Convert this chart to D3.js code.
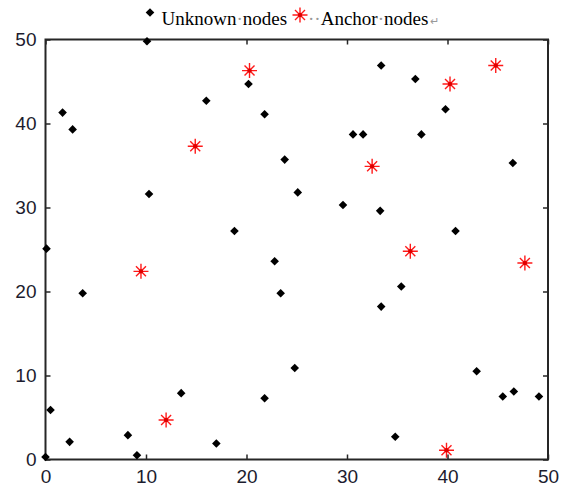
<!DOCTYPE html>
<html>
<head>
<meta charset="utf-8">
<script src="https://cdn.jsdelivr.net/npm/d3@7"></script>
<style>
  body { margin: 0; background: #fff; }
  .tick text { font-family: "Liberation Sans", Arial, sans-serif; font-size: 19px; fill: #1c1c2e; }
  .tick line { stroke: #262626; stroke-width: 1.5; }
</style>
</head>
<body>
<div id="chart"></div>
<script>
// unknown nodes (black diamonds)
var unknownX = [10.1, 1.7, 2.7, 16.0, 10.3, 0.1, 20.2, 21.8, 33.4, 30.6,
                31.6, 23.8, 25.1, 29.6, 33.3, 18.8, 36.8, 39.8, 37.4, 46.5,
                40.8, 3.7, 13.5, 0.5, 8.2, 2.4, 9.1, 0.0, 17.0, 22.8,
                23.4, 33.4, 24.8, 21.8, 35.4, 42.9, 45.5, 46.6, 49.1, 34.8];
var unknownY = [49.8, 41.3, 39.3, 42.7, 31.6, 25.1, 44.7, 41.1, 46.9, 38.7,
                38.7, 35.7, 31.8, 30.3, 29.6, 27.2, 45.3, 41.7, 38.7, 35.3,
                27.2, 19.8, 7.9, 5.9, 2.9, 2.1, 0.5, 0.3, 1.9, 23.6,
                19.8, 18.2, 10.9, 7.3, 20.6, 10.5, 7.5, 8.1, 7.5, 2.7];

// anchor nodes (red stars)
var anchorX = [9.5, 12.0, 14.9, 20.3, 32.5, 36.3, 40.25, 39.9, 44.8, 47.7];
var anchorY = [22.4, 4.7, 37.3, 46.3, 34.9, 24.8, 44.7, 1.1, 46.9, 23.4];

var tickValues = [0, 10, 20, 30, 40, 50];

var width = 570, height = 492;
var margin = {top: 39.5, right: 22, bottom: 32.5, left: 45.5};
var plotW = width - margin.left - margin.right,
    plotH = height - margin.top - margin.bottom;

var svg = d3.select('#chart')
            .append('svg')
            .attr('width', width)
            .attr('height', height);

var x = d3.scaleLinear().domain([0, 50]).range([0, plotW]);
var y = d3.scaleLinear().domain([0, 50]).range([plotH, 0]);

var g = svg.append('g')
           .attr('transform', 'translate(' + margin.left + ',' + margin.top + ')');

// axes with inward ticks (box style)
g.append('g')
  .attr('transform', 'translate(0,' + plotH + ')')
  .call(d3.axisBottom(x).tickValues(tickValues).tickSizeInner(-5).tickSizeOuter(0).tickPadding(10))
  .call(function (a) { a.select('.domain').remove(); });

g.append('g')
  .call(d3.axisLeft(y).tickValues(tickValues).tickSizeInner(-5).tickSizeOuter(0).tickPadding(9))
  .call(function (a) { a.select('.domain').remove(); });

g.append('g')
  .call(d3.axisTop(x).tickValues(tickValues).tickSizeInner(-5).tickSizeOuter(0).tickFormat(''))
  .call(function (a) { a.select('.domain').remove(); });

g.append('g')
  .attr('transform', 'translate(' + plotW + ',0)')
  .call(d3.axisRight(y).tickValues(tickValues).tickSizeInner(-5).tickSizeOuter(0).tickFormat(''))
  .call(function (a) { a.select('.domain').remove(); });

g.append('rect')
  .attr('width', plotW)
  .attr('height', plotH)
  .attr('fill', 'none')
  .attr('stroke', '#262626')
  .attr('stroke-width', 2);

// marker shapes
var diamondPath = 'M0,-4.3L4.3,0L0,4.3L-4.3,0Z';
var starPath = 'M-7.5,0L7.5,0M0,-7.5L0,7.5M-5,-5L5,5M-5,5L5,-5';

function drawDiamond(sel) {
  sel.append('path').attr('d', diamondPath).attr('fill', '#000');
}
function drawStar(sel) {
  sel.append('path').attr('d', starPath)
     .attr('fill', 'none').attr('stroke', '#ff1a1a').attr('stroke-width', 1.4);
  sel.append('circle').attr('r', 2.2).attr('fill', '#e00000');
}

var unknown = unknownX.map(function (v, i) { return {x: v, y: unknownY[i]}; });
var anchors = anchorX.map(function (v, i) { return {x: v, y: anchorY[i]}; });

g.append('g').selectAll('g')
  .data(unknown)
  .enter().append('g')
  .attr('transform', function (d) { return 'translate(' + x(d.x) + ',' + y(d.y) + ')'; })
  .each(function () { drawDiamond(d3.select(this)); });

g.append('g').selectAll('g')
  .data(anchors)
  .enter().append('g')
  .attr('transform', function (d) { return 'translate(' + x(d.x) + ',' + y(d.y) + ')'; })
  .each(function () { drawStar(d3.select(this)); });

// legend (text pasted from a word processor, with formatting marks)
var legend = svg.append('g').attr('class', 'legend');
legend.append('g').attr('transform', 'translate(150,12.5)').call(drawDiamond);
legend.append('g').attr('transform', 'translate(300,15)').call(drawStar);

var serif = '"Liberation Serif", "Times New Roman", serif';
var t1 = legend.append('text')
  .attr('x', 161.5).attr('y', 25)
  .attr('font-family', serif).attr('font-size', 19).attr('fill', '#000');
t1.append('tspan').text('Unknown');
t1.append('tspan').attr('fill', '#999').text('·');
t1.append('tspan').text('nodes');

var t2 = legend.append('text')
  .attr('x', 308).attr('y', 25)
  .attr('font-family', serif).attr('font-size', 19).attr('fill', '#000');
t2.append('tspan').attr('fill', '#999').text('··');
t2.append('tspan').text('Anchor');
t2.append('tspan').attr('fill', '#999').text('·');
t2.append('tspan').text('nodes');
t2.append('tspan').attr('fill', '#999').attr('font-size', 11).attr('dx', 2).text('↵');
</script>
</body>
</html>
